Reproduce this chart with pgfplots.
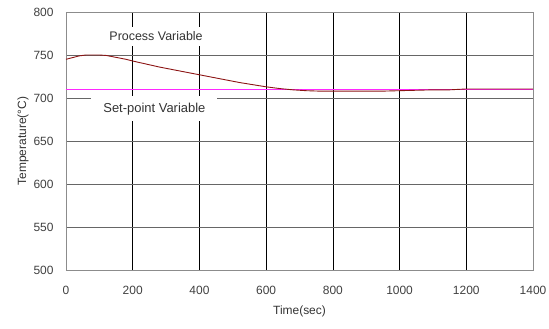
\documentclass[border=0pt]{standalone}
\usepackage{pgfplots}
\pgfplotsset{compat=1.18}
\usepackage{fontspec}
\setmainfont{Liberation Sans}
\definecolor{pv}{RGB}{140,20,20}
\definecolor{sp}{RGB}{255,40,255}
\begin{document}
\begin{tikzpicture}[x=1bp,y=1bp]
\begin{axis}[
  scale only axis,
  width=467bp, height=258bp,
  xmin=0, xmax=1400, ymin=500, ymax=800,
  xtick={0,200,...,1400}, ytick={500,550,...,800},
  /pgf/number format/assume math mode=true,
  /pgf/number format/1000 sep={},
  tick label style={font=\fontsize{12}{14}\selectfont, text=black!75},
  xticklabel style={yshift=-13bp},
  yticklabel style={xshift=-9bp},
  label style={font=\fontsize{12}{14}\selectfont, text=black!80},
  xlabel={Time(sec)}, ylabel={Temperature(°C)},
  xlabel style={yshift=-4bp}, ylabel style={yshift=-2bp},
  major tick length=0pt,
  xmajorgrids, ymajorgrids,
  x grid style={black, line width=0.6pt},
  y grid style={black!60, line width=0.8pt},
  axis line style={black!45, line width=0.8pt},
  clip=false,
]
\coordinate (sw) at (rel axis cs:0,0);
\coordinate (ne) at (rel axis cs:1,1);
\addplot[sp, line width=1.2pt] coordinates {(0,710) (1400,710)};
\addplot[pv, line width=0.9pt] coordinates {
(0,745) (20,747) (40,749) (60,750) (80,750) (100,750) (120,749.5) (140,748) (160,746.5) (180,745) (200,743) (240,739.5) (280,736) (320,733) (360,730) (400,727) (440,724) (480,721) (520,718) (560,715.5) (600,713) (640,711) (680,709.5) (720,708.5) (760,708) (800,708) (850,708) (900,708) (950,708) (1000,708.5) (1050,709) (1100,709.5) (1150,709.5) (1200,710.5) (1250,710.5) (1300,710.5) (1350,710.5) (1400,710.5)};
\node[fill=white, inner xsep=10bp, inner ysep=5bp, font=\fontsize{12.5}{14}\selectfont, text=black!80] at (axis cs:270,772) {Process Variable};
\node[fill=white, inner xsep=12bp, inner ysep=6.5bp, font=\fontsize{13}{15}\selectfont, text=black!80] at (axis cs:265,687.5) {Set-point Variable};
\end{axis}
\pgfresetboundingbox
\path ([shift={(-66bp,-59bp)}]sw) rectangle ([shift={(16bp,12bp)}]ne);
\end{tikzpicture}
\end{document}
